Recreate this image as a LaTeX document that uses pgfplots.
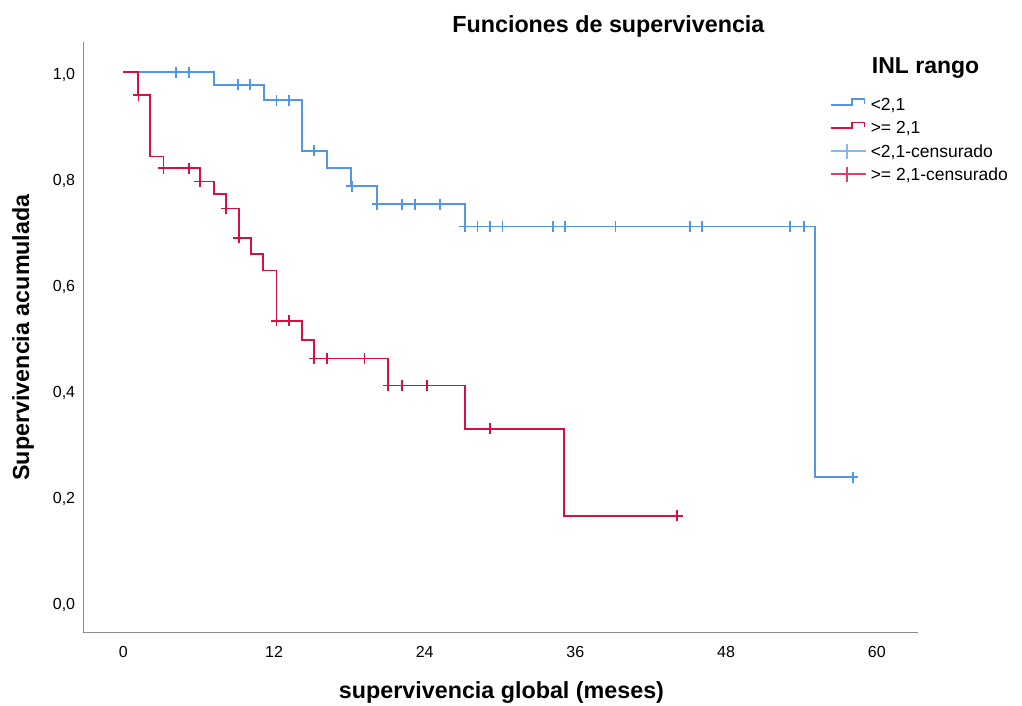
\documentclass[border=0pt]{standalone}
\usepackage{fontspec}
\setmainfont{Liberation Sans}
\usepackage{pgfplots}
\pgfplotsset{compat=1.18}
\definecolor{kmblue}{RGB}{82,150,230}
\definecolor{kmred}{RGB}{214,16,64}
\definecolor{axgray}{RGB}{140,140,140}
\begin{document}
\begin{tikzpicture}[x=1pt,y=1pt]
\path[use as bounding box] (0,0) rectangle (1022,706);
\begin{axis}[
  at={(83.3pt,73.3pt)}, anchor=south west,
  scale only axis, width=835pt, height=591pt,
  xmin=-3.19, xmax=63.31, ymin=-0.0574, ymax=1.0577,
  axis x line=bottom, axis y line=left,
  axis line style={-, draw=axgray, line width=1.5pt},
  xtick={0,12,24,36,48,60}, ytick={0,0.2,0.4,0.6,0.8,1.0},
  major tick length=0pt,
  /pgf/number format/assume math mode=true,
  xticklabel style={font=\fontsize{16}{16}\selectfont, anchor=north, inner sep=0pt, yshift=-13.3pt},
  yticklabel style={font=\fontsize{16}{16}\selectfont, anchor=base east, inner sep=0pt, xshift=-8pt, yshift=-7.4pt,
    /pgf/number format/.cd, fixed, fixed zerofill, precision=1, use comma},
  legend style={at={(axis description cs:0.8955,0.9051)}, anchor=north west, draw=none, fill=none,
    inner sep=0pt, outer sep=0pt, font=\fontsize{17.5}{17.5}\selectfont,
    row sep=7.5pt, column sep=4.7pt,
    nodes={inner sep=0pt, text height=12.5pt, text depth=3.5pt}},
  legend cell align=left,
  clip=false,
]
\addplot[kmblue, line width=1.9pt, const plot mark left,
  legend image code/.code={
    \path[draw=none, fill=none] (0pt,0pt) rectangle (35pt,2pt);
    \draw[overlay, kmblue, line width=1.9pt] (0pt,1.2pt) -- (20.7pt,1.2pt) -- (20.7pt,6.8pt) -- (33.4pt,6.8pt) -- (33.4pt,2pt);}]
coordinates {
(0,1.0) (7.2,0.976) (11.2,0.947) (14.2,0.852) (16.2,0.819) (18.1,0.785)
(20.2,0.751) (27.2,0.709) (55.1,0.236) (58.1,0.236)
};
\addlegendentry{<2,1}
\addplot[kmred, line width=1.9pt, const plot mark left,
  legend image code/.code={
    \path[draw=none, fill=none] (0pt,0pt) rectangle (35pt,2pt);
    \draw[overlay, kmred, line width=1.9pt] (0pt,1.2pt) -- (20.7pt,1.2pt) -- (20.7pt,6.8pt) -- (33.4pt,6.8pt) -- (33.4pt,2pt);}]
coordinates {
(0,1.0) (1.2,0.957) (2.15,0.841) (3.2,0.819) (6.1,0.794) (7.2,0.770)
(8.2,0.743) (9.2,0.688) (10.2,0.657) (11.1,0.626) (12.2,0.531) (14.2,0.495)
(15.2,0.460) (21.1,0.409) (27.2,0.327) (35.1,0.163) (44.1,0.163)
};
\addlegendentry{>= 2,1}
\addplot[only marks, mark=+, mark size=5.5pt, mark options={kmblue, line width=1.8pt},
  legend image code/.code={
    \path[draw=none, fill=none] (0pt,0pt) rectangle (35pt,2pt);
    \draw[overlay, kmblue!70, line width=1.9pt] (0pt,2.2pt) -- (35pt,2.2pt);
    \draw[overlay, kmblue!70, line width=1.9pt] (15.7pt,-5.8pt) -- (15.7pt,8.8pt);}]
coordinates {
(4.2,1.0) (5.2,1.0) (9.1,0.976) (10.1,0.976) (12.2,0.947) (13.2,0.947)
(15.2,0.852) (18.2,0.785) (20.2,0.751) (22.2,0.751) (23.2,0.751) (25.2,0.751)
(27.2,0.709) (28.2,0.709) (29.2,0.709) (30.2,0.709) (34.2,0.709) (35.2,0.709)
(39.2,0.709) (45.1,0.709) (46.1,0.709) (53.1,0.709) (54.2,0.709) (58.1,0.236)
};
\addlegendentry{<2,1-censurado}
\addplot[only marks, mark=+, mark size=5.5pt, mark options={kmred, line width=1.8pt},
  legend image code/.code={
    \path[draw=none, fill=none] (0pt,0pt) rectangle (35pt,2pt);
    \draw[overlay, kmred!80, line width=1.9pt] (0pt,2.2pt) -- (35pt,2.2pt);
    \draw[overlay, kmred!80, line width=1.9pt] (15.7pt,-5.8pt) -- (15.7pt,8.8pt);}]
coordinates {
(1.2,0.957) (3.2,0.819) (5.2,0.819) (6.1,0.794) (8.2,0.743) (9.2,0.688)
(12.2,0.531) (13.2,0.531) (15.2,0.460) (16.2,0.460) (19.2,0.460)
(21.1,0.409) (22.2,0.409) (24.2,0.409) (29.2,0.327) (44.1,0.163)
};
\addlegendentry{>= 2,1-censurado}
\end{axis}
\node[anchor=base, inner sep=0pt, font=\bfseries\fontsize{23.3}{23.3}\selectfont] at (608.4,673.3) {Funciones de supervivencia};
\node[anchor=base west, inner sep=0pt, font=\bfseries\fontsize{23}{23}\selectfont] at (871.7,632.7) {INL rango};
\node[anchor=base, inner sep=0pt, font=\bfseries\fontsize{23.3}{23.3}\selectfont] at (501.5,7.5) {supervivencia global (meses)};
\node[anchor=base, rotate=90, inner sep=0pt, font=\bfseries\fontsize{23.3}{23.3}\selectfont] at (29,368.5) {Supervivencia acumulada};
\end{tikzpicture}
\end{document}
